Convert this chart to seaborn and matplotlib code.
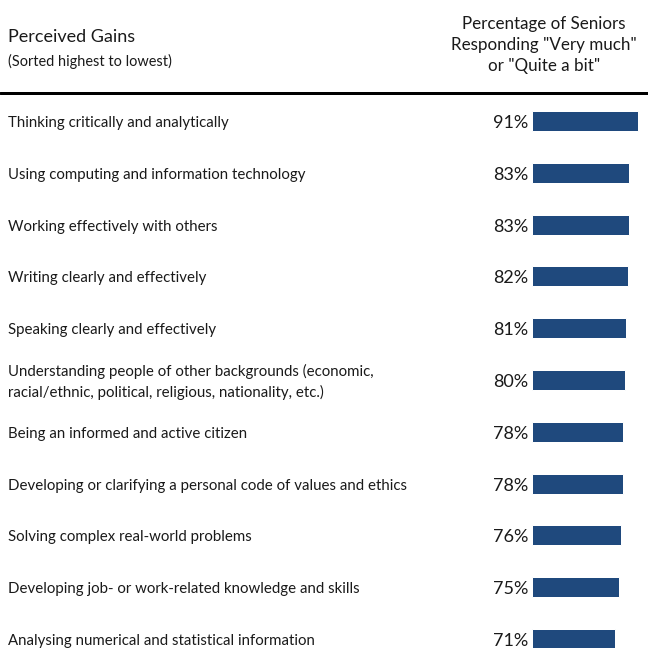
import matplotlib
matplotlib.use("Agg")
import matplotlib.pyplot as plt
import matplotlib.transforms as mtransforms
from matplotlib.lines import Line2D
import seaborn as sns
import pandas as pd

gains = [
    "Thinking critically and analytically",
    "Using computing and information technology",
    "Working effectively with others",
    "Writing clearly and effectively",
    "Speaking clearly and effectively",
    "Understanding people of other backgrounds (economic,\nracial/ethnic, political, religious, nationality, etc.)",
    "Being an informed and active citizen",
    "Developing or clarifying a personal code of values and ethics",
    "Solving complex real-world problems",
    "Developing job- or work-related knowledge and skills",
    "Analysing numerical and statistical information",
]
pct = [91, 83, 83, 82, 81, 80, 78, 78, 76, 75, 71]

header_left = "Perceived Gains"
header_left_note = "(Sorted highest to lowest)"
header_right = 'Percentage of Seniors\nResponding "Very much"\nor "Quite a bit"'

BAR_COLOR = "#1F497D"
TEXT_COLOR = "#1a1a1a"

sns.set_theme(style="white")
plt.rcParams["font.family"] = ["Lato", "DejaVu Sans"]

W = H = 648
fig = plt.figure(figsize=(9, 9), dpi=72)
fig.patch.set_facecolor("white")
ax = fig.add_axes([0, 0, 1, 1])

df = pd.DataFrame({"gain": [str(i) for i in range(len(gains))], "pct": pct})
sns.barplot(data=df, x="pct", y="gain", orient="h", color=BAR_COLOR,
            saturation=1, width=0.386, ax=ax)

# pixel layout: bars start at x=532, 1.165 px per percent; rows 51.8 px apart from y=121
x0, px_per = 532, 1.165
y0, row = 121, 51.8
ax.set_xlim(-x0 / px_per, (W - x0) / px_per)
ax.set_ylim((H - y0) / row, -y0 / row)
ax.axis("off")

# nudge row text slightly downward (in pixels) so it sits level with the bars
nudge = mtransforms.ScaledTranslation(0, -2 / 72, fig.dpi_scale_trans)
trans = mtransforms.blended_transform_factory(fig.transFigure, ax.transData) + nudge
for i, (g, p) in enumerate(zip(gains, pct)):
    ax.text(8 / W, i, g, transform=trans, ha="left", va="center",
            fontsize=15, color=TEXT_COLOR, linespacing=1.45)
    ax.text(-4 / px_per, i, f"{p}%", transform=ax.transData + nudge,
            ha="right", va="center", fontsize=18, color=TEXT_COLOR)

fig.text(8 / W, 1 - 37 / H, header_left, ha="left", va="center",
         fontsize=18, color=TEXT_COLOR)
fig.text(8 / W, 1 - 61 / H, header_left_note, ha="left", va="center",
         fontsize=14.5, color=TEXT_COLOR)
fig.text(544 / W, 1 - 45 / H, header_right, ha="center", va="center",
         fontsize=17, color=TEXT_COLOR, linespacing=1.42)

fig.add_artist(Line2D([0, 1], [1 - 93 / H, 1 - 93 / H], transform=fig.transFigure,
                      color="black", lw=3))

fig.savefig("out.png", dpi=72, facecolor="white")
